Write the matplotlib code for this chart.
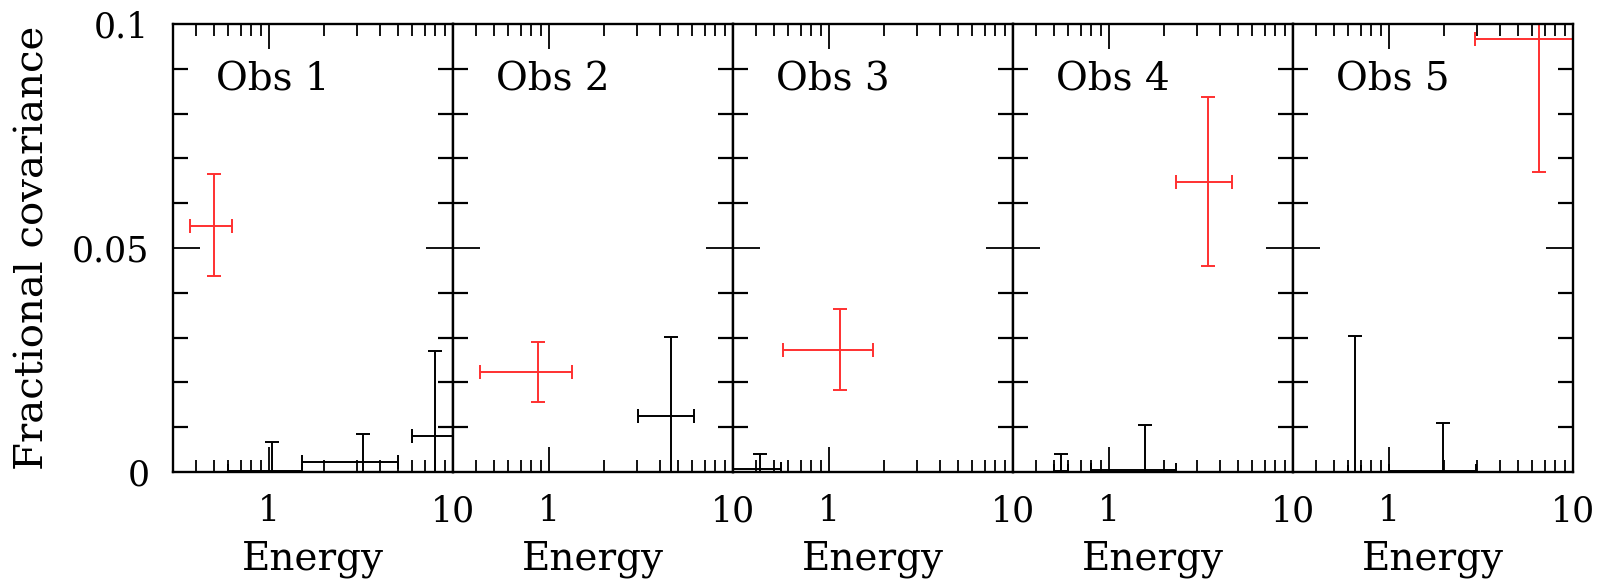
import numpy as np
import matplotlib
matplotlib.use("Agg")
import matplotlib.pyplot as plt
from matplotlib.ticker import FixedLocator, FixedFormatter, NullFormatter, MultipleLocator

plt.rcParams["font.family"] = ["DejaVu Serif"]

obs_labels = ["Obs 1", "Obs 2", "Obs 3", "Obs 4", "Obs 5"]

# red points: one per observation (energy centre, energy range, covariance, errors)
red_energy = [0.50, 0.87, 1.14, 3.46, 6.53]
red_energy_lo = [0.37, 0.42, 0.56, 2.31, 2.92]
red_energy_hi = [0.63, 1.33, 1.74, 4.64, 10.0]
red_cov = [0.0550, 0.0223, 0.0272, 0.0648, 0.0967]
red_cov_minus = [0.0113, 0.0066, 0.0089, 0.0188, 0.0298]
red_cov_plus = [0.0115, 0.0067, 0.0091, 0.0189, 0.0300]

# black points: several per observation
black_energy = [[1.04, 3.23, 7.98], [4.58], [0.42], [0.55, 1.57], [0.65, 1.96]]
black_energy_lo = [[0.60, 1.50, 6.00], [3.03], [0.28], [0.50, 0.80], [0.60, 1.00]]
black_energy_hi = [[1.50, 5.05, 11.0], [6.14], [0.55], [0.60, 2.32], [0.70, 2.97]]
black_cov = [[0.0003, 0.0022, 0.0080], [0.0125], [0.0006], [0.0002, 0.0005], [0.0001, 0.0003]]
black_cov_err = [[0.0064, 0.0062, 0.0190], [0.0176], [0.0035], [0.0039, 0.0099], [0.0302, 0.0106]]

y_tick_text = {0: "0", 1: "0.05", 2: "0.1"}

W, H = 1610, 582
fig = plt.figure(figsize=(W / 100, H / 100), dpi=100)

left_px, top_px, bottom_px, panel_px = 173, 24, 472, 280
for i in range(5):
    rect = [(left_px + i * panel_px) / W, (H - bottom_px) / H,
            panel_px / W, (bottom_px - top_px) / H]
    ax = fig.add_axes(rect)
    ax.set_xscale("log")
    ax.set_xlim(0.3, 10)
    ax.set_ylim(0, 0.1)

    # red
    e = red_energy[i]
    ax.errorbar(e, red_cov[i],
                xerr=[[e - red_energy_lo[i]], [red_energy_hi[i] - e]],
                yerr=[[red_cov_minus[i]], [red_cov_plus[i]]],
                fmt="none", ecolor="#ff3030", elinewidth=1.4,
                capsize=5, capthick=1.4)

    # black
    be = np.array(black_energy[i])
    ax.errorbar(be, black_cov[i],
                xerr=[be - np.array(black_energy_lo[i]),
                      np.array(black_energy_hi[i]) - be],
                yerr=black_cov_err[i],
                fmt="none", ecolor="black", elinewidth=1.4,
                capsize=5, capthick=1.4)

    ax.text(0.155, 0.875, obs_labels[i], transform=ax.transAxes,
            fontsize=28, ha="left", va="center")

    ax.xaxis.set_major_locator(FixedLocator([1, 10]))
    ax.xaxis.set_major_formatter(FixedFormatter(["1", "10"]))
    ax.xaxis.set_minor_locator(FixedLocator(
        [0.3, 0.4, 0.5, 0.6, 0.7, 0.8, 0.9, 2, 3, 4, 5, 6, 7, 8, 9]))
    ax.xaxis.set_minor_formatter(NullFormatter())
    ax.yaxis.set_major_locator(MultipleLocator(0.05))
    ax.yaxis.set_minor_locator(MultipleLocator(0.01))
    ax.yaxis.set_major_formatter(matplotlib.ticker.FuncFormatter(
        lambda v, p: y_tick_text.get(int(round(v / 0.05)), "")))

    ax.tick_params(axis="both", which="both", direction="in",
                   top=True, right=True, colors="black")
    ax.tick_params(axis="y", which="major", length=19.5, width=1.3)
    ax.tick_params(axis="y", which="minor", length=10.5, width=1.6)
    ax.tick_params(axis="x", which="major", length=18, width=1.3)
    ax.tick_params(axis="x", which="minor", length=8.5, width=1.3)
    ax.tick_params(axis="x", which="major", labelsize=25, pad=16)
    ax.tick_params(axis="y", which="major", labelsize=25, pad=17)
    if i > 0:
        ax.tick_params(axis="y", labelleft=False)

    for sp in ax.spines.values():
        sp.set_linewidth(1.7)

    ax.set_xlabel("Energy", fontsize=28)
    ax.xaxis.set_label_coords(0.5, -0.195)
    ax.xaxis.label.set_va("center")

fig.text(33 / W, 1 - 248 / H, "Fractional covariance", rotation=90,
         fontsize=29, ha="center", va="center")

fig.savefig("out.png", dpi=100)
